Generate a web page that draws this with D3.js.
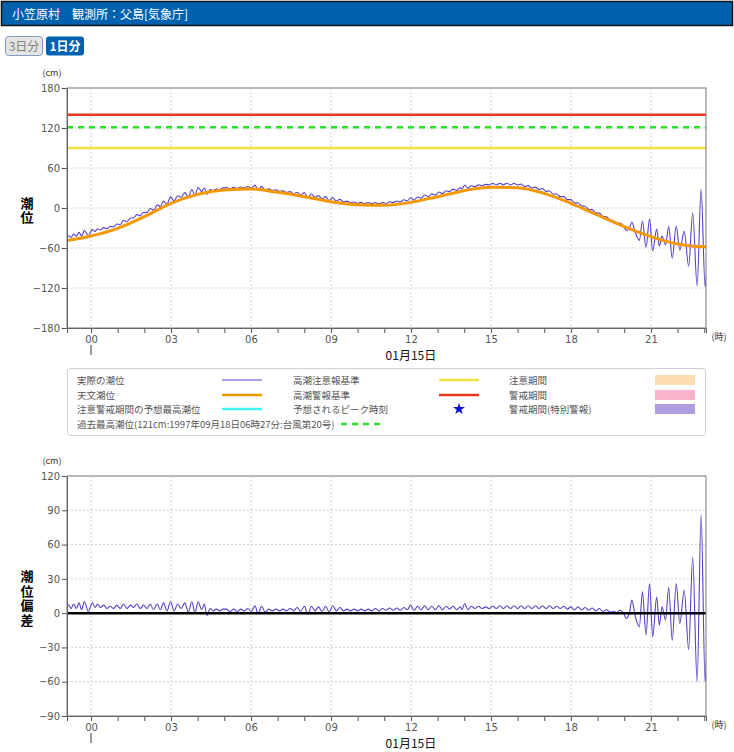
<!DOCTYPE html>
<html>
<head>
<meta charset="utf-8">
<script src="https://cdn.jsdelivr.net/npm/d3@7"></script>
<style>
body { margin: 0; background: #fff; }
text { font-family: "Noto Sans CJK JP", "Noto Sans", sans-serif; }
</style>
</head>
<body>
<div id="chart"></div>
<script>
// ---- data (minutes from 00:00 on 01/15) ----
var astroHour = [-1, 0, 1, 2, 3, 4, 5, 6, 7, 8, 9, 10, 11, 12, 13, 14, 15, 16, 17, 18, 19, 20, 21, 22, 23, 24]
var astroLevel = [-49.5, -42, -30.5, -13, 7, 20.5, 27, 28.5, 23.5, 17, 9.5, 5, 4, 8.5, 17, 26, 31, 30.5, 22, 7, -10.5, -28, -43, -54, -58, -57]

var obsMinute = [
  -55, -50, -45, -39, -33, -27, -21, -15, -6,
  3, 9, 15, 21, 29, 36, 43, 51, 58,
  66, 73, 81, 89, 96, 103, 111, 118,
  126, 133, 141, 149, 156, 163, 171, 179,
  187, 195, 203, 211, 219, 227, 234, 241,
  249, 255, 261, 268, 275, 282, 289, 297,
  305, 313, 321, 329, 337, 345, 353,
  361, 369, 376, 384, 392, 400, 408, 416,
  424, 432, 440, 448, 456, 464, 472, 480,
  488, 496, 504, 512, 520, 528, 536, 544,
  552, 560, 568, 576, 584, 592,
  600, 608, 616, 624, 632, 640, 648, 656,
  664, 672, 680, 688, 696, 704, 712, 719,
  727, 735, 743, 751, 759, 767, 775,
  783, 791, 799, 807, 815, 823, 831, 835,
  841, 848, 856, 864, 872, 880, 888, 896,
  904, 912, 920, 928, 936, 944, 952,
  960, 968, 976, 984, 992, 1000, 1008, 1016,
  1024, 1032, 1040, 1048, 1056, 1064, 1072, 1080,
  1088, 1096, 1104, 1112, 1120, 1128, 1136,
  1144, 1152, 1160, 1168, 1176, 1184, 1190, 1197,
  1205, 1212, 1217, 1225, 1234, 1241, 1249, 1257,
  1264, 1273, 1279, 1285, 1293, 1300, 1308, 1317,
  1325, 1335, 1345, 1354, 1364, 1373, 1382, 1385
]
var obsLevel = [
  -44.3, -41.7, -44, -39.2, -42.4, -36.6, -41.8, -34, -41.3,
  -32.4, -35.3, -31.1, -33, -29.4, -31.1, -27.8, -28.2, -23.9,
  -24.7, -18.7, -20.4, -15, -15, -10, -11.6, -6.6,
  -7, -0.7, -3, 4.7, 2, 10.3, 6, 16.7,
  10.6, 18.4, 16.2, 23, 16.8, 27.6, 19.2, 30.7,
  24.5, 30.1, 20.8, 27.5, 26.3, 28.5, 27.8, 30.2,
  30.6, 28.8, 31, 29.2, 31.4, 30.1, 32.3,
  29.9, 34.3, 26.7, 32.5, 26.8, 28.7, 26.5, 27.3,
  25.1, 25.7, 23.3, 24.5, 21.6, 23.7, 19.4, 23,
  15, 21, 16, 18.5, 13.5, 17, 11, 15.5,
  10.6, 13, 9.4, 10.3, 8.2, 9.1,
  7, 8.4, 6.7, 8.1, 6.5, 8.3, 6.2, 8.1,
  6.8, 9.4, 8, 10.6, 9.2, 12.3, 10.9, 15.4,
  12, 16.6, 14.8, 19.4, 17, 21.2, 19.3,
  24, 21.7, 25.9, 24.5, 28.3, 26.5, 30.2, 28.6,
  34.6, 29.7, 33.3, 32, 34.7, 33.3, 35.5, 34.7,
  36.9, 34.8, 37.2, 34.7, 37.1, 34.6, 37,
  34.5, 35.9, 32.2, 33.6, 30, 31.3, 27.7, 29.1,
  25, 25.5, 21, 21, 17, 17, 12.5, 12.5,
  7.7, 7.8, 3, 2.7, -2.2, -2.5, -7.3,
  -7.7, -12.5, -13.3, -17.7, -19.5, -22.8, -22.6, -26.1,
  -34, -30, -20.9, -37.2, -48.5, -19.6, -59.3, -16.3,
  -64.4, -31.4, -57, -42.1, -55, -27.8, -75.4, -27.4,
  -63.3, -35, -87.4, -7.2, -116.9, 28.5, -118, -98
]
var obsDeviation = [
  5, 7, 4, 8, 4, 9, 3, 10, 1.5,
  9, 5, 8, 5, 7, 4, 6, 4, 7,
  4, 8, 4, 7, 5, 8, 4, 7,
  4, 8, 3, 8, 3, 9, 2, 10,
  2, 8, 4, 9, 1, 10, 0, 10,
  3, 8, -2, 4, 2, 3.5, 2, 3.5,
  3.5, 1.5, 3.5, 1.5, 3.5, 2, 4,
  1.5, 6.5, -0.5, 6, 1, 3.5, 2, 3.5,
  2, 3.5, 2, 4, 2, 5, 1.5, 6,
  -1, 6, 2, 5.5, 1.5, 6, 1, 6.5,
  2, 5, 2, 3.5, 2, 3.5,
  2, 3.5, 2, 3.5, 2, 4, 2, 4,
  2.5, 4.5, 2.5, 4.5, 2.5, 5, 3, 7,
  2.5, 6, 3, 6.5, 3, 6, 3,
  6.5, 3, 6, 3.5, 6, 3, 5.5, 3,
  8.5, 3, 6, 4, 6, 4, 5.5, 4,
  6, 4, 6.5, 4, 6.5, 4, 6.5,
  4, 6.5, 4, 6.5, 4, 6.5, 4, 6.5,
  4, 6.5, 4, 6, 4, 6, 3.5, 5.5,
  3, 5.5, 3, 5, 2.5, 4.5, 2,
  4, 1.5, 3, 1, 1.5, 0.5, 2.5, 1,
  -4.7, 1, 11.4, -3, -12, 18.7, -19, 26,
  -20.7, 14, -10.5, 5.5, -6, 22.5, -23.6, 26,
  -9, 20, -31.8, 49, -60, 86, -60, -40
]

// reference levels (cm)
var warnLevel = 140      // 高潮警報基準
var recordLevel = 121    // 過去最高潮位
var adviseLevel = 90     // 高潮注意報基準

var tideTicks = [-180, -120, -60, 0, 60, 120, 180]
var devTicks = [-90, -60, -30, 0, 30, 60, 90, 120]
var hourLabels = ["00", "03", "06", "09", "12", "15", "18", "21"]

var W = 734, H = 752
var purple = "#5a3ec8", orange = "#f39800"

var svg = d3.select("#chart").append("svg")
            .attr("width", W)
            .attr("height", H)

// header bar
svg.append("rect")
   .attr("x", 1.5).attr("y", 1.5)
   .attr("width", 731).attr("height", 24)
   .attr("fill", "#0062ae")
   .attr("stroke", "#111")
   .attr("stroke-width", 1.5)
svg.append("text")
   .attr("x", 12).attr("y", 18.5)
   .attr("font-size", "12px")
   .attr("fill", "#fff")
   .text("小笠原村　観測所：父島[気象庁]")

// buttons
svg.append("rect")
   .attr("x", 5.5).attr("y", 36.5).attr("width", 37).attr("height", 19).attr("rx", 3)
   .attr("fill", "#e4e4e4").attr("stroke", "#7d9cc4")
svg.append("text")
   .attr("x", 24).attr("y", 50.5).attr("text-anchor", "middle")
   .attr("font-size", "12px").attr("fill", "#808080")
   .text("3日分")
svg.append("rect")
   .attr("x", 46).attr("y", 36.5).attr("width", 38).attr("height", 19).attr("rx", 3)
   .attr("fill", "#0062ae")
svg.append("text")
   .attr("x", 65).attr("y", 50.5).attr("text-anchor", "middle")
   .attr("font-size", "12px").attr("fill", "#fff").attr("font-weight", "bold")
   .text("1日分")

var x = d3.scaleLinear().domain([-54, 1384]).range([67, 706])
var hourTicks = d3.range(0, 24).map(function (h) { return h * 60 })

function drawPanel(id, top, bottom, yDomain, yTicks, label) {
  var y = d3.scaleLinear().domain(yDomain).range([bottom, top])
  var g = svg.append("g")

  g.append("clipPath").attr("id", "clip-" + id)
   .append("rect")
   .attr("x", 67).attr("y", top)
   .attr("width", 706 - 67).attr("height", bottom - top)

  // grid
  g.selectAll(".hgrid")
   .data(yTicks.slice(1, -1))
   .enter().append("line")
   .attr("x1", 67).attr("x2", 706)
   .attr("y1", function (d) { return y(d) }).attr("y2", function (d) { return y(d) })
   .attr("stroke", "#d4d4d4").attr("stroke-dasharray", "2,2")
  g.selectAll(".vgrid")
   .data(hourTicks.filter(function (m) { return m % 180 === 0 }))
   .enter().append("line")
   .attr("x1", function (d) { return x(d) }).attr("x2", function (d) { return x(d) })
   .attr("y1", top).attr("y2", bottom)
   .attr("stroke", "#d4d4d4").attr("stroke-dasharray", "2,2")

  var plot = g.append("g").attr("clip-path", "url(#clip-" + id + ")")

  // axes
  var yAxis = g.append("g")
               .attr("transform", "translate(67,0)")
               .call(d3.axisLeft(y).tickValues(yTicks).tickSize(5).tickPadding(2))
  var xAxis = g.append("g")
               .attr("transform", "translate(0," + bottom + ")")
               .call(d3.axisBottom(x).tickValues(hourTicks).tickSize(5).tickPadding(3)
                       .tickFormat(function (m) { return m % 180 === 0 ? hourLabels[m / 180] : "" }))
  ;[yAxis, xAxis].forEach(function (a) {
    a.selectAll("text").attr("font-size", "10px").attr("fill", "#555")
     .style("font-family", "'DejaVu Sans', sans-serif")
    a.selectAll("line").attr("stroke", "#555")
    a.select(".domain").attr("stroke", "#555")
  })

  // frame top / right
  g.append("rect")
   .attr("x", 67).attr("y", top)
   .attr("width", 706 - 67).attr("height", bottom - top)
   .attr("fill", "none").attr("stroke", "#777")

  g.append("text")
   .attr("x", 52).attr("y", top - 12).attr("text-anchor", "middle")
   .attr("font-size", "9px").attr("fill", "#333")
   .text("(cm)")

  g.append("text")
   .attr("x", 719).attr("y", bottom + 12).attr("text-anchor", "middle")
   .attr("font-size", "9px").attr("fill", "#333")
   .text("(時)")

  g.append("line")
   .attr("x1", x(0)).attr("x2", x(0))
   .attr("y1", bottom + 17).attr("y2", bottom + 27)
   .attr("stroke", "#999").attr("stroke-width", 2)

  g.append("text")
   .attr("x", x(720)).attr("y", bottom + 32).attr("text-anchor", "middle")
   .attr("font-size", "12px").attr("fill", "#111")
   .text("01月15日")

  // vertical axis title, one text element written top-to-bottom
  var mid = (top + bottom) / 2 + 3
  g.append("text")
   .attr("x", 27).attr("y", mid)
   .attr("text-anchor", "middle")
   .style("writing-mode", "vertical-rl")
   .style("letter-spacing", "1.5px")
   .attr("font-size", "13px").attr("font-weight", "bold").attr("fill", "#000")
   .text(label)

  return { y: y, plot: plot }
}

// ---- top panel: tide level ----
var p1 = drawPanel("tide", 88, 328, [-180, 180], tideTicks, "潮位")

var refLines = [
  { v: adviseLevel, color: "#f0e040", dash: null },
  { v: warnLevel, color: "#e83820", dash: null },
  { v: recordLevel, color: "#2ee02e", dash: "6,5" }
]
p1.plot.selectAll(".ref")
  .data(refLines)
  .enter().append("line")
  .attr("x1", 67).attr("x2", 706)
  .attr("y1", function (d) { return p1.y(d.v) }).attr("y2", function (d) { return p1.y(d.v) })
  .attr("stroke", function (d) { return d.color })
  .attr("stroke-width", 2.5)
  .attr("stroke-dasharray", function (d) { return d.dash })

var obsLine = d3.line()
                .x(function (d, i) { return x(obsMinute[i]) })
                .y(function (d) { return p1.y(d) })
                .curve(d3.curveMonotoneX)
p1.plot.append("path")
  .datum(obsLevel)
  .attr("d", obsLine)
  .attr("fill", "none").attr("stroke", purple).attr("stroke-width", 1.1)

var astroLine = d3.line()
                  .x(function (d, i) { return x(astroHour[i] * 60) })
                  .y(function (d) { return p1.y(d) })
                  .curve(d3.curveMonotoneX)
p1.plot.append("path")
  .datum(astroLevel)
  .attr("d", astroLine)
  .attr("fill", "none").attr("stroke", orange).attr("stroke-width", 3)

// ---- legend ----
var legend = svg.append("g")
legend.append("rect")
      .attr("x", 67.5).attr("y", 368.5)
      .attr("width", 638).attr("height", 67).attr("rx", 3)
      .attr("fill", "none").attr("stroke", "#cfcfcf")

var legendItems = [
  { label: "実際の潮位", col: 0, row: 0, kind: "line", color: purple, w: 1.2 },
  { label: "天文潮位", col: 0, row: 1, kind: "line", color: orange, w: 2.5 },
  { label: "注意警戒期間の予想最高潮位", col: 0, row: 2, kind: "line", color: "#3ef0f0", w: 2.5 },
  { label: "高潮注意報基準", col: 1, row: 0, kind: "line", color: "#f0e040", w: 2.5 },
  { label: "高潮警報基準", col: 1, row: 1, kind: "line", color: "#e83820", w: 2.5 },
  { label: "予想されるピーク時刻", col: 1, row: 2, kind: "star", color: "#1010d0" },
  { label: "注意期間", col: 2, row: 0, kind: "box", color: "#fcdcb0" },
  { label: "警戒期間", col: 2, row: 1, kind: "box", color: "#f9b4cc" },
  { label: "警戒期間(特別警報)", col: 2, row: 2, kind: "box", color: "#b09ce0" }
]
var colText = [77, 293, 509], colMark = [222, 439, 655], rowY = [380, 395, 409]

legendItems.forEach(function (d) {
  var yy = rowY[d.row]
  legend.append("text")
        .attr("x", colText[d.col]).attr("y", yy + 3.5)
        .attr("font-size", "9.5px").attr("fill", "#555")
        .text(d.label)
  if (d.kind === "line") {
    legend.append("line")
          .attr("x1", colMark[d.col]).attr("x2", colMark[d.col] + 40)
          .attr("y1", yy).attr("y2", yy)
          .attr("stroke", d.color).attr("stroke-width", d.w)
  } else if (d.kind === "box") {
    legend.append("rect")
          .attr("x", colMark[d.col]).attr("y", yy - 5)
          .attr("width", 40).attr("height", 10)
          .attr("fill", d.color)
  } else {
    legend.append("path")
          .attr("d", d3.symbol(d3.symbolStar).size(45))
          .attr("transform", "translate(" + (colMark[d.col] + 20) + "," + yy + ")")
          .attr("fill", d.color)
  }
})
legend.append("text")
      .attr("x", 77).attr("y", 427.5)
      .attr("font-size", "9.5px").attr("fill", "#555")
      .text("過去最高潮位(121cm:1997年09月18日06時27分:台風第20号)")
legend.append("line")
      .attr("x1", 341).attr("x2", 380)
      .attr("y1", 424).attr("y2", 424)
      .attr("stroke", "#2ee02e").attr("stroke-width", 2.5)
      .attr("stroke-dasharray", "6,5")

// ---- bottom panel: deviation ----
var p2 = drawPanel("dev", 476, 716, [-90, 120], devTicks, "潮位偏差")

var devLine = d3.line()
                .x(function (d, i) { return x(obsMinute[i]) })
                .y(function (d) { return p2.y(d) })
                .curve(d3.curveMonotoneX)
p2.plot.append("path")
  .datum(obsDeviation)
  .attr("d", devLine)
  .attr("fill", "none").attr("stroke", purple).attr("stroke-width", 1.1)

p2.plot.append("line")
  .attr("x1", 67).attr("x2", 706)
  .attr("y1", p2.y(0)).attr("y2", p2.y(0))
  .attr("stroke", "#000").attr("stroke-width", 2.5)
</script>
</body>
</html>
